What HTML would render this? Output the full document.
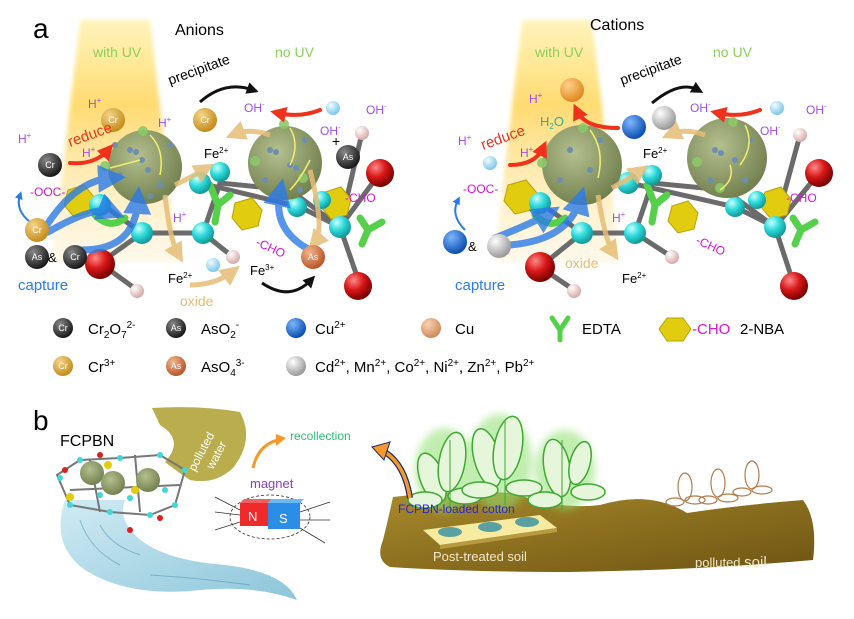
<!DOCTYPE html>
<html><head><meta charset="utf-8"><style>
html,body{margin:0;padding:0;background:#fff}
svg{display:block}
text{font-family:"Liberation Sans",Arial,sans-serif}
</style></head><body>
<svg width="854" height="619" viewBox="0 0 854 619" xmlns="http://www.w3.org/2000/svg">
<defs>
<linearGradient id="uv" x1="0" y1="0" x2="0" y2="1">
<stop offset="0" stop-color="#ffe56a" stop-opacity="0.45"/>
<stop offset="0.35" stop-color="#ffd458" stop-opacity="0.85"/>
<stop offset="1" stop-color="#ffe7b0" stop-opacity="0.25"/>
</linearGradient>
<radialGradient id="big" cx="0.4" cy="0.35" r="0.7"><stop offset="0" stop-color="#b4c08e"/><stop offset="1" stop-color="#6f7d4c"/></radialGradient>
<radialGradient id="cy" cx="0.35" cy="0.3" r="0.7"><stop offset="0" stop-color="#c8ffff"/><stop offset="0.5" stop-color="#2fdbdb"/><stop offset="1" stop-color="#129a9a"/></radialGradient>
<radialGradient id="rd" cx="0.35" cy="0.3" r="0.7"><stop offset="0" stop-color="#ff8a8a"/><stop offset="0.5" stop-color="#d81818"/><stop offset="1" stop-color="#7a0000"/></radialGradient>
<radialGradient id="pk" cx="0.35" cy="0.3" r="0.7"><stop offset="0" stop-color="#fff"/><stop offset="1" stop-color="#d9a9a9"/></radialGradient>
<radialGradient id="blk" cx="0.35" cy="0.3" r="0.7"><stop offset="0" stop-color="#888"/><stop offset="1" stop-color="#1a1a1a"/></radialGradient>
<radialGradient id="gold" cx="0.35" cy="0.3" r="0.7"><stop offset="0" stop-color="#f5d488"/><stop offset="1" stop-color="#c58d1c"/></radialGradient>
<radialGradient id="asor" cx="0.35" cy="0.3" r="0.7"><stop offset="0" stop-color="#f4b48a"/><stop offset="1" stop-color="#b9572a"/></radialGradient>
<radialGradient id="blu" cx="0.35" cy="0.3" r="0.7"><stop offset="0" stop-color="#7fb6ff"/><stop offset="1" stop-color="#0b4fb0"/></radialGradient>
<radialGradient id="cu" cx="0.35" cy="0.3" r="0.7"><stop offset="0" stop-color="#f9d3b4"/><stop offset="1" stop-color="#d08a5a"/></radialGradient>
<radialGradient id="wh" cx="0.35" cy="0.3" r="0.7"><stop offset="0" stop-color="#fff"/><stop offset="1" stop-color="#9a9a9a"/></radialGradient>
<radialGradient id="ob" cx="0.35" cy="0.3" r="0.7"><stop offset="0" stop-color="#ffd08a"/><stop offset="1" stop-color="#e08a20"/></radialGradient>
<radialGradient id="o2" cx="0.35" cy="0.3" r="0.7"><stop offset="0" stop-color="#f0fbff"/><stop offset="1" stop-color="#7cc8ea"/></radialGradient>
<linearGradient id="soil" x1="0" y1="0" x2="1" y2="1"><stop offset="0" stop-color="#a88a2c"/><stop offset="1" stop-color="#6e5412"/></linearGradient>
<linearGradient id="water" x1="0" y1="0" x2="1" y2="1"><stop offset="0" stop-color="#cbe9f2"/><stop offset="1" stop-color="#7fbfd6"/></linearGradient>
<filter id="gl"><feGaussianBlur stdDeviation="2"/></filter>
<filter id="gl4"><feGaussianBlur stdDeviation="4"/></filter>
<marker id="ab" markerWidth="4" markerHeight="4" refX="2" refY="2" orient="auto" markerUnits="strokeWidth"><path d="M0,0 L4,2 L0,4 Z" fill="#2b7be8"/></marker>
<marker id="at" markerWidth="4" markerHeight="4" refX="2" refY="2" orient="auto" markerUnits="strokeWidth"><path d="M0,0 L4,2 L0,4 Z" fill="#e6bd76"/></marker>
<marker id="ar" markerWidth="4" markerHeight="4" refX="2" refY="2" orient="auto" markerUnits="strokeWidth"><path d="M0,0 L4,2 L0,4 Z" fill="#f0321c"/></marker>
<marker id="ak" markerWidth="4" markerHeight="4" refX="2" refY="2" orient="auto" markerUnits="strokeWidth"><path d="M0,0 L4,2 L0,4 Z" fill="#111"/></marker>
</defs>

<path d="M80 20 L150 20 L178 262 L52 262 Z" fill="url(#uv)" filter="url(#gl)"/>
<path d="M522 20 L592 20 L620 262 L494 262 Z" fill="url(#uv)" filter="url(#gl)"/>

<text x="33" y="38" font-size="28">a</text>
<text x="175" y="35" font-size="16">Anions</text>
<text x="590" y="30" font-size="16">Cations</text>
<text x="93" y="57" font-size="14" fill="#8ccf5c">with UV</text>
<text x="275" y="57" font-size="14" fill="#8ccf5c">no UV</text>
<text x="535" y="57" font-size="14" fill="#8ccf5c">with UV</text>
<text x="713" y="57" font-size="14" fill="#8ccf5c">no UV</text>

<g stroke="#6b6b6b" stroke-width="5" stroke-linecap="round" fill="none">
<path d="M100 203 L142 233 L203 233 L220 183 L290 190 L340 227 L360 285"/>
<path d="M142 233 L100 263 L137 290"/><path d="M203 233 L233 257"/><path d="M340 227 L362 133 M340 227 L380 173"/>
<path d="M200 183 L300 207 L340 227"/>
<path d="M540 203 L582 233 L635 233 L652 183 L725 190 L775 227 L794 285"/>
<path d="M582 233 L540 267 L574 290"/><path d="M635 233 L672 257"/><path d="M775 227 L800 135 M775 227 L819 173"/>
<path d="M630 183 L735 207 L775 227"/>
</g>
<g fill="#e2cc10" stroke="#b8a400" stroke-width="1">
<polygon points="235,203 252,198 262,210 258,226 242,230 232,218"/>
<polygon points="68,190 84,185 94,197 90,213 74,217 64,205"/>
<polygon points="325,192 341,187 351,199 347,215 331,219 321,207"/>
<polygon points="508,185 526,180 537,193 532,210 515,214 504,201"/>
<polygon points="672,206 688,201 698,213 694,229 678,233 668,221"/>
<polygon points="765,192 781,187 791,199 787,215 771,219 761,207"/>
</g>
<g stroke="#55d04a" stroke-width="7" fill="none" stroke-linecap="round">
<path d="M210 185 L218 205 L230 195 M218 205 L215 222"/>
<path d="M360 218 L368 230 L382 222 M368 230 L362 244"/>
<path d="M95 215 Q110 230 125 218"/>
<path d="M647 185 L655 205 L667 195 M655 205 L652 222"/>
<path d="M793 218 L801 230 L815 222 M801 230 L795 244"/>
<path d="M535 215 Q550 230 565 218"/>
</g>
<g fill="url(#cy)">
<circle cx="100" cy="205" r="11"/><circle cx="142" cy="233" r="11"/><circle cx="200" cy="183" r="11"/><circle cx="220" cy="172" r="10"/>
<circle cx="203" cy="233" r="11"/><circle cx="340" cy="227" r="11"/><circle cx="297" cy="207" r="10"/><circle cx="322" cy="200" r="9"/>
<circle cx="540" cy="203" r="11"/><circle cx="582" cy="233" r="11"/><circle cx="628" cy="183" r="11"/><circle cx="652" cy="175" r="10"/>
<circle cx="635" cy="233" r="11"/><circle cx="775" cy="227" r="11"/><circle cx="735" cy="207" r="10"/><circle cx="757" cy="200" r="9"/>
</g>
<g fill="url(#rd)">
<circle cx="100" cy="264" r="15"/><circle cx="380" cy="173" r="14"/><circle cx="358" cy="286" r="14"/>
<circle cx="540" cy="267" r="15"/><circle cx="819" cy="173" r="14"/><circle cx="794" cy="286" r="14"/>
</g>
<g fill="url(#pk)">
<circle cx="137" cy="291" r="7"/><circle cx="362" cy="133" r="7"/><circle cx="233" cy="257" r="7"/>
<circle cx="574" cy="291" r="7"/><circle cx="800" cy="135" r="7"/><circle cx="672" cy="257" r="7"/>
</g>

<g>
<circle cx="145" cy="167" r="37" fill="url(#big)"/><circle cx="285" cy="163" r="37" fill="url(#big)"/>
<circle cx="582" cy="165" r="40" fill="url(#big)"/><circle cx="727" cy="158" r="40" fill="url(#big)"/>
<g fill="#6d8fae">
<circle cx="130" cy="150" r="3"/><circle cx="136" cy="152" r="3"/><circle cx="142" cy="160" r="3"/><circle cx="148" cy="170" r="3"/><circle cx="120" cy="175" r="3"/><circle cx="160" cy="185" r="3"/><circle cx="170" cy="145" r="3"/><circle cx="115" cy="145" r="3"/><circle cx="150" cy="196" r="3"/>
<circle cx="270" cy="150" r="3"/><circle cx="276" cy="152" r="3"/><circle cx="290" cy="165" r="3"/><circle cx="296" cy="168" r="3"/><circle cx="265" cy="180" r="3"/><circle cx="305" cy="140" r="3"/><circle cx="300" cy="190" r="3"/><circle cx="255" cy="160" r="3"/>
<circle cx="570" cy="150" r="3"/><circle cx="590" cy="170" r="3"/><circle cx="560" cy="180" r="3"/><circle cx="600" cy="140" r="3"/><circle cx="580" cy="195" r="3"/>
<circle cx="715" cy="150" r="3"/><circle cx="721" cy="153" r="3"/><circle cx="735" cy="160" r="3"/><circle cx="745" cy="180" r="3"/><circle cx="710" cy="180" r="3"/><circle cx="750" cy="140" r="3"/>
</g>
<g fill="#8bc968" fill-opacity="0.9">
<circle cx="143" cy="131" r="5"/><circle cx="105" cy="166" r="5"/><circle cx="284" cy="124" r="5"/><circle cx="255" cy="161" r="5"/><circle cx="303" cy="178" r="5"/>
<circle cx="583" cy="128" r="5"/><circle cx="542" cy="163" r="5"/><circle cx="733" cy="122" r="5"/><circle cx="697" cy="162" r="5"/><circle cx="720" cy="188" r="5"/>
</g>
<g fill="none" stroke="#f3ee70" stroke-width="1.5">
<path d="M150 135 Q165 150 160 175"/><path d="M140 160 L110 168"/><path d="M290 128 Q300 145 290 165"/><path d="M310 160 Q300 180 290 190"/>
<path d="M590 130 Q605 150 598 178"/><path d="M745 125 Q755 145 740 165"/><path d="M730 165 Q735 180 720 190"/>
</g>
</g>

<g fill="none" stroke="#2b7be8" stroke-width="7" opacity="0.8" stroke-linecap="round">
<path d="M45 228 Q75 180 112 178" marker-end="url(#ab)"/><path d="M48 232 Q95 205 112 212" marker-end="url(#ab)"/><path d="M82 250 Q135 250 138 200" marker-end="url(#ab)"/>
<path d="M310 250 Q272 230 280 192" marker-end="url(#ab)"/>
<path d="M495 238 Q535 222 548 214" marker-end="url(#ab)"/><path d="M510 245 Q568 240 580 200" marker-end="url(#ab)"/>
</g>
<g fill="none" stroke="#2b7be8" stroke-width="2">
<path d="M30 222 Q15 210 20 195" marker-end="url(#ab)"/><path d="M465 230 Q450 215 458 200" marker-end="url(#ab)"/>
</g>
<g fill="none" stroke="#e6bd76" stroke-width="5" opacity="0.85">
<path d="M165 195 Q170 240 178 254" marker-end="url(#at)"/><path d="M175 185 Q195 175 205 169" marker-end="url(#at)"/><path d="M270 135 Q250 128 235 134" marker-end="url(#at)"/><path d="M310 170 Q325 230 315 242" marker-end="url(#at)"/><path d="M190 285 Q215 285 232 272" marker-end="url(#at)"/>
<path d="M598 195 Q605 240 613 252" marker-end="url(#at)"/><path d="M612 188 Q630 178 640 171" marker-end="url(#at)"/><path d="M705 135 Q685 128 671 134" marker-end="url(#at)"/>
</g>
<g fill="none" stroke="#f0321c" stroke-width="4" stroke-linecap="round">
<path d="M70 163 Q95 165 108 150" marker-end="url(#ar)"/><path d="M320 110 Q300 118 278 113" marker-end="url(#ar)"/>
<path d="M510 165 Q535 165 543 148" marker-end="url(#ar)"/><path d="M618 128 Q585 128 577 111" marker-end="url(#ar)"/><path d="M760 110 Q740 118 718 113" marker-end="url(#ar)"/>
</g>
<g fill="none" stroke="#111" stroke-width="3">
<path d="M200 102 Q225 80 253 90" marker-end="url(#ak)"/><path d="M262 283 Q290 302 311 280" marker-end="url(#ak)"/><path d="M652 103 Q680 80 698 90" marker-end="url(#ak)"/>
</g>

<g font-size="9" fill="#fff" text-anchor="middle">
<circle cx="113" cy="120" r="12" fill="url(#gold)"/><text x="113" y="123">Cr</text>
<circle cx="205" cy="120" r="12" fill="url(#gold)"/><text x="205" y="123">Cr</text>
<circle cx="50" cy="165" r="12" fill="url(#blk)"/><text x="50" y="168">Cr</text>
<circle cx="348" cy="157" r="12" fill="url(#blk)"/><text x="348" y="160">As</text>
<circle cx="37" cy="230" r="12" fill="url(#gold)"/><text x="37" y="233">Cr</text>
<circle cx="37" cy="257" r="12" fill="url(#blk)"/><text x="37" y="260">As</text>
<circle cx="75" cy="257" r="12" fill="url(#blk)"/><text x="75" y="260">Cr</text>
<circle cx="313" cy="257" r="12" fill="url(#asor)"/><text x="313" y="260">As</text>
<circle cx="333" cy="108" r="7" fill="url(#o2)"/><circle cx="213" cy="265" r="7" fill="url(#o2)"/>
<circle cx="777" cy="108" r="7" fill="url(#o2)"/><circle cx="490" cy="163" r="7" fill="url(#o2)"/>
<circle cx="572" cy="90" r="12" fill="url(#ob)"/>
<circle cx="634" cy="127" r="12" fill="url(#blu)"/><circle cx="664" cy="118" r="12" fill="url(#wh)"/>
<circle cx="455" cy="242" r="12" fill="url(#blu)"/><circle cx="499" cy="246" r="12" fill="url(#wh)"/>
</g>
<g font-size="12">
<text x="88" y="108" fill="#a04ee8">H<tspan font-size="8" dy="-5">+</tspan></text>
<text x="158" y="127" fill="#a04ee8">H<tspan font-size="8" dy="-5">+</tspan></text>
<text x="18" y="143" fill="#a04ee8">H<tspan font-size="8" dy="-5">+</tspan></text>
<text x="82" y="157" fill="#a04ee8">H<tspan font-size="8" dy="-5">+</tspan></text>
<text x="173" y="222" fill="#a04ee8">H<tspan font-size="8" dy="-5">+</tspan></text>
<text x="244" y="112" fill="#a04ee8">OH<tspan font-size="8" dy="-5">-</tspan></text>
<text x="366" y="114" fill="#a04ee8">OH<tspan font-size="8" dy="-5">-</tspan></text>
<text x="320" y="135" fill="#a04ee8">OH<tspan font-size="8" dy="-5">-</tspan></text>
<text x="332" y="146" font-size="14">+</text>
<text x="30" y="196" fill="#d814d8">-OOC-</text>
<text x="345" y="202" fill="#d814d8">-CHO</text>
<text x="255" y="245" fill="#d814d8" transform="rotate(25 255 245)">-CHO</text>
<text x="204" y="158" font-size="13">Fe<tspan font-size="8" dy="-5">2+</tspan></text>
<text x="168" y="283" font-size="13">Fe<tspan font-size="8" dy="-5">2+</tspan></text>
<text x="250" y="275" font-size="13">Fe<tspan font-size="8" dy="-5">3+</tspan></text>
<text x="180" y="306" font-size="14" fill="#e6bd76">oxide</text>
<text x="18" y="290" font-size="15" fill="#2b7be8">capture</text>
<text x="70" y="147" font-size="15" fill="#f0321c" transform="rotate(-20 70 147)">reduce</text>
<text x="170" y="85" font-size="14" transform="rotate(-20 170 85)">precipitate</text>

<text x="529" y="103" fill="#a04ee8">H<tspan font-size="8" dy="-5">+</tspan></text>
<text x="458" y="145" fill="#a04ee8">H<tspan font-size="8" dy="-5">+</tspan></text>
<text x="520" y="157" fill="#a04ee8">H<tspan font-size="8" dy="-5">+</tspan></text>
<text x="612" y="222" fill="#a04ee8">H<tspan font-size="8" dy="-5">+</tspan></text>
<text x="540" y="126" fill="#2bb0a0" font-size="13">H<tspan font-size="8" dy="3">2</tspan><tspan dy="-3">O</tspan></text>
<text x="690" y="112" fill="#a04ee8">OH<tspan font-size="8" dy="-5">-</tspan></text>
<text x="806" y="114" fill="#a04ee8">OH<tspan font-size="8" dy="-5">-</tspan></text>
<text x="760" y="135" fill="#a04ee8">OH<tspan font-size="8" dy="-5">-</tspan></text>
<text x="463" y="193" fill="#d814d8">-OOC-</text>
<text x="786" y="202" fill="#d814d8">-CHO</text>
<text x="695" y="243" fill="#d814d8" transform="rotate(25 695 243)">-CHO</text>
<text x="468" y="251" font-size="13">&amp;</text>
<text x="48" y="262" font-size="13">&amp;</text>
<text x="643" y="158" font-size="13">Fe<tspan font-size="8" dy="-5">2+</tspan></text>
<text x="622" y="283" font-size="13">Fe<tspan font-size="8" dy="-5">2+</tspan></text>
<text x="565" y="268" font-size="14" fill="#e6bd76">oxide</text>
<text x="455" y="290" font-size="15" fill="#2b7be8">capture</text>
<text x="483" y="150" font-size="15" fill="#f0321c" transform="rotate(-20 483 150)">reduce</text>
<text x="622" y="85" font-size="14" transform="rotate(-20 622 85)">precipitate</text>
</g>

<g font-size="9" fill="#fff" text-anchor="middle">
<circle cx="63" cy="328" r="10" fill="url(#blk)"/><text x="63" y="331">Cr</text>
<circle cx="176" cy="328" r="10" fill="url(#blk)"/><text x="176" y="331">As</text>
<circle cx="296" cy="328" r="10" fill="url(#blu)"/>
<circle cx="431" cy="328" r="10" fill="url(#cu)"/>
<circle cx="63" cy="366" r="10" fill="url(#gold)"/><text x="63" y="369">Cr</text>
<circle cx="176" cy="366" r="10" fill="url(#asor)"/><text x="176" y="369">As</text>
<circle cx="296" cy="366" r="10" fill="url(#wh)"/>
</g>
<path d="M552 318 L560 330 L568 318 M560 330 L560 340" stroke="#55d04a" stroke-width="5" fill="none" stroke-linecap="round"/>
<polygon points="667,318 683,318 691,329 683,341 667,341 659,329" fill="#e2cc10" stroke="#b8a400"/>
<g font-size="15">
<text x="88" y="334">Cr<tspan font-size="10" dy="4">2</tspan><tspan dy="-4">O</tspan><tspan font-size="10" dy="4">7</tspan><tspan font-size="10" dy="-10">2-</tspan></text>
<text x="201" y="334">AsO<tspan font-size="10" dy="4">2</tspan><tspan font-size="10" dy="-10">-</tspan></text>
<text x="315" y="334">Cu<tspan font-size="10" dy="-6">2+</tspan></text>
<text x="455" y="334">Cu</text>
<text x="582" y="334">EDTA</text>
<text x="692" y="334" fill="#d814d8">-CHO</text>
<text x="740" y="334">2-NBA</text>
<text x="88" y="372">Cr<tspan font-size="10" dy="-6">3+</tspan></text>
<text x="201" y="372">AsO<tspan font-size="10" dy="4">4</tspan><tspan font-size="10" dy="-10">3-</tspan></text>
<text x="315" y="372">Cd<tspan font-size="10" dy="-6">2+</tspan><tspan dy="6">, Mn</tspan><tspan font-size="10" dy="-6">2+</tspan><tspan dy="6">, Co</tspan><tspan font-size="10" dy="-6">2+</tspan><tspan dy="6">, Ni</tspan><tspan font-size="10" dy="-6">2+</tspan><tspan dy="6">, Zn</tspan><tspan font-size="10" dy="-6">2+</tspan><tspan dy="6">, Pb</tspan><tspan font-size="10" dy="-6">2+</tspan></text>
</g>

<text x="33" y="430" font-size="28">b</text>
<text x="60" y="446" font-size="16">FCPBN</text>
<path d="M152 408 Q200 405 240 412 Q255 440 233 468 Q215 485 190 480 Q175 470 165 462 Q185 440 160 425 Z" fill="#b2a43a" opacity="0.9"/>
<text x="195" y="472" font-size="12" fill="#fff" transform="rotate(-62 195 472)">polluted</text>
<text x="213" y="470" font-size="12" fill="#fff" transform="rotate(-62 213 470)">water</text>
<path d="M65 500 Q50 545 85 570 Q130 598 200 590 Q255 585 297 600 Q285 572 225 565 Q160 560 135 535 Q118 518 125 500 Z" fill="url(#water)" opacity="0.9"/>
<g fill="none" stroke="#5a9ab8" stroke-width="1" opacity="0.6"><path d="M80 520 Q90 550 120 565"/><path d="M100 525 Q110 545 140 555"/><path d="M150 575 Q200 578 250 585"/></g>
<g stroke="#777" stroke-width="2" fill="none">
<path d="M57 475 L80 460 L120 458 L160 455 L185 470 L175 505 L150 515 L110 512 L70 505 Z"/>
<path d="M70 490 L180 485 M90 460 L100 512 M135 455 L140 512"/>
</g>
<g fill="#3fd7d7">
<circle cx="60" cy="478" r="3"/><circle cx="80" cy="460" r="3"/><circle cx="120" cy="458" r="3"/><circle cx="160" cy="455" r="3"/><circle cx="185" cy="470" r="3"/><circle cx="175" cy="505" r="3"/><circle cx="150" cy="515" r="3"/><circle cx="110" cy="512" r="3"/><circle cx="70" cy="505" r="3"/><circle cx="100" cy="495" r="3"/><circle cx="130" cy="498" r="3"/><circle cx="165" cy="490" r="3"/>
</g>
<g fill="#d82020"><circle cx="65" cy="470" r="3"/><circle cx="130" cy="530" r="3"/><circle cx="160" cy="518" r="3"/><circle cx="100" cy="455" r="3"/></g>
<g fill="#e2cc10"><circle cx="70" cy="497" r="4"/><circle cx="135" cy="490" r="4"/><circle cx="108" cy="465" r="4"/></g>
<g fill="url(#big)"><circle cx="92" cy="473" r="12"/><circle cx="113" cy="483" r="12"/><circle cx="148" cy="480" r="12"/></g>

<ellipse cx="270" cy="517" rx="40" ry="22" fill="none" stroke="#333" stroke-width="0.8" stroke-dasharray="3 2"/>
<g stroke="#333" stroke-width="0.8"><path d="M215 497 L240 510 M215 512 L240 515 M215 530 L240 522 M300 512 L330 502 M300 520 L330 520 M300 528 L325 543"/></g>
<polygon points="240,503 268,503 272,499 244,499" fill="#f06060"/>
<rect x="240" y="503" width="28" height="23" fill="#ee2a2a"/>
<polygon points="268,503 300,503 304,499 272,499" fill="#6ab8f5"/>
<rect x="268" y="503" width="32" height="26" fill="#2a8ee6"/>
<text x="248" y="521" font-size="13" fill="#fff">N</text>
<text x="279" y="523" font-size="13" fill="#fff">S</text>
<text x="250" y="488" font-size="13" fill="#8a3fbf">magnet</text>
<path d="M253 468 Q258 445 278 440" fill="none" stroke="#f59a2a" stroke-width="3"/>
<polygon points="276,434 286,438 276,446" fill="#f59a2a"/>
<text x="290" y="440" font-size="12" fill="#2ec070">recollection</text>

<path d="M393 497 Q450 490 513 493 Q560 510 600 505 Q650 490 687 513 Q740 505 803 500 Q818 520 813 560 Q700 570 570 572 Q470 572 390 567 Q375 560 383 540 Q388 520 393 497 Z" fill="url(#soil)"/>
<g fill="#8fe070" opacity="0.55" filter="url(#gl4)">
<ellipse cx="445" cy="470" rx="30" ry="42"/><ellipse cx="500" cy="462" rx="32" ry="48"/><ellipse cx="565" cy="470" rx="30" ry="40"/>
</g>
<g fill="#e6f6da" stroke="#3fa832" stroke-width="1.5">
<ellipse cx="432" cy="478" rx="12" ry="26" transform="rotate(-20 432 478)"/><ellipse cx="452" cy="462" rx="13" ry="30" transform="rotate(10 452 462)"/><ellipse cx="425" cy="500" rx="17" ry="8"/><ellipse cx="465" cy="496" rx="17" ry="8"/>
<ellipse cx="487" cy="458" rx="13" ry="30" transform="rotate(-15 487 458)"/><ellipse cx="508" cy="448" rx="14" ry="32" transform="rotate(10 508 448)"/><ellipse cx="480" cy="490" rx="18" ry="8"/><ellipse cx="524" cy="488" rx="18" ry="8"/>
<ellipse cx="557" cy="468" rx="13" ry="29" transform="rotate(-10 557 468)"/><ellipse cx="580" cy="463" rx="10" ry="22" transform="rotate(15 580 463)"/><ellipse cx="545" cy="500" rx="17" ry="8"/><ellipse cx="588" cy="492" rx="17" ry="8"/>
</g>
<g fill="none" stroke="#3fa832" stroke-width="1"><path d="M450 510 L450 440 M505 505 L505 420 M562 510 L562 440"/></g>
<g fill="none" stroke="#b47a4a" stroke-width="1.2">
<ellipse cx="685" cy="487" rx="7" ry="14"/><ellipse cx="695" cy="500" rx="10" ry="4"/><ellipse cx="675" cy="502" rx="9" ry="4"/>
<ellipse cx="718" cy="483" rx="7" ry="14"/><ellipse cx="728" cy="498" rx="10" ry="4"/><ellipse cx="708" cy="500" rx="9" ry="4"/>
<ellipse cx="752" cy="475" rx="7" ry="14"/><ellipse cx="762" cy="490" rx="10" ry="4"/><ellipse cx="742" cy="492" rx="9" ry="4"/>
</g>
<path d="M410 498 Q405 465 385 452" fill="none" stroke="#1a2a6a" stroke-width="6"/>
<path d="M410 498 Q405 465 385 452" fill="none" stroke="#f59a2a" stroke-width="3.5"/>
<polygon points="372,447 390,442 384,460" fill="#f59a2a" stroke="#1a2a6a" stroke-width="1"/>
<text x="398" y="513" font-size="12" fill="#2626d8">FCPBN-loaded cotton</text>
<polygon points="423,530 540,515 557,528 440,545" fill="#f6eba0"/>
<polygon points="440,545 557,528 557,532 440,549" fill="#b89a40"/>
<g fill="#5aa0a0"><ellipse cx="450" cy="532" rx="12" ry="5"/><ellipse cx="490" cy="527" rx="12" ry="5"/><ellipse cx="527" cy="522" rx="12" ry="5"/></g>
<text x="433" y="561" font-size="13" fill="#f2e6c8">Post-treated soil</text>
<text x="695" y="567" font-size="13" fill="#f2e6c8">polluted <tspan font-size="15">soil</tspan></text>
</svg>
</body></html>
